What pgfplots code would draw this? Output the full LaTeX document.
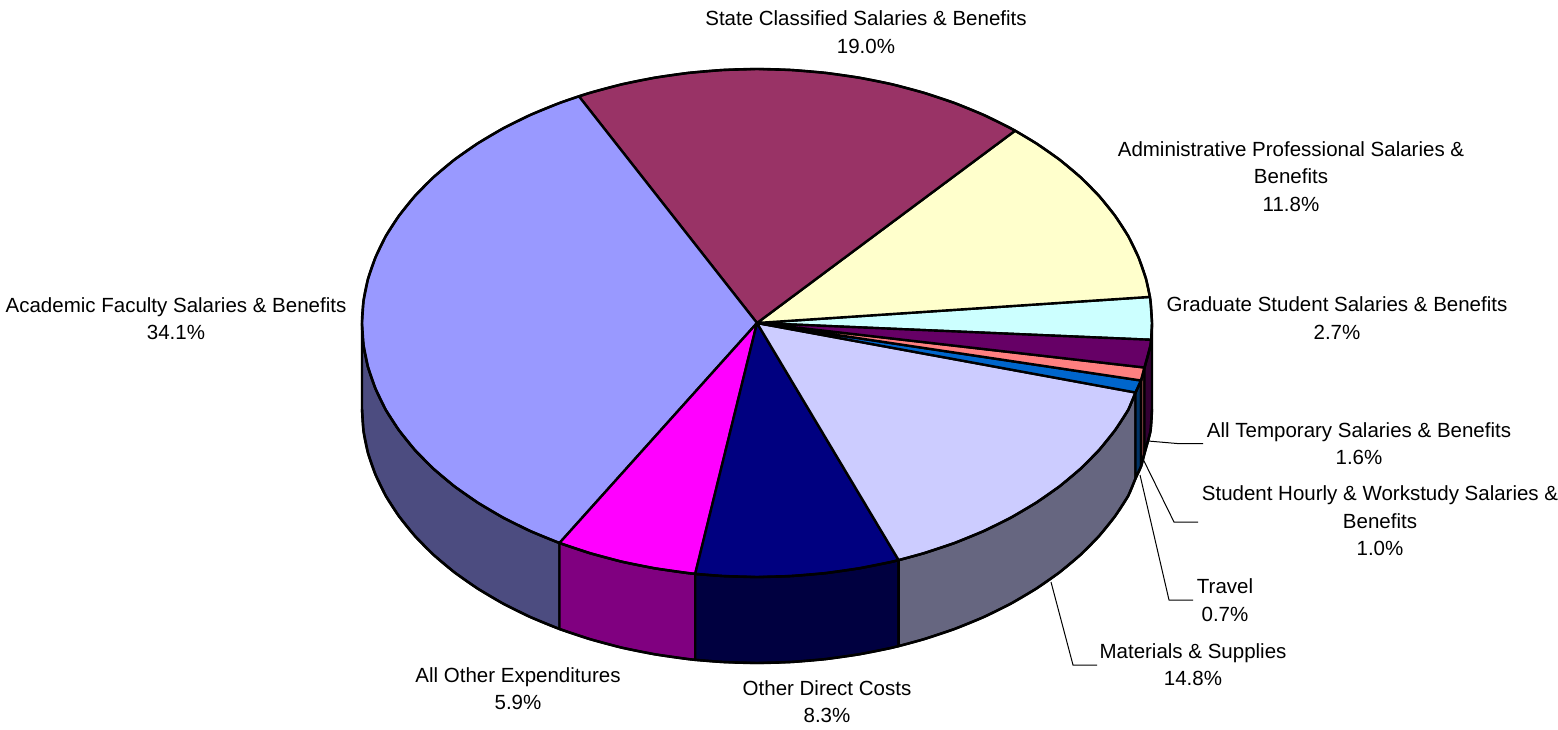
\documentclass[border=0pt]{standalone}
\usepackage{fontspec}
\setmainfont{Liberation Sans}
\usepackage{pgfplots}
\pgfplotsset{compat=1.18}

\definecolor{periw}{HTML}{9999FF}
\definecolor{periwd}{HTML}{4C4C80}
\definecolor{maroonc}{HTML}{993366}
\definecolor{yellowc}{HTML}{FFFFCC}
\definecolor{cyanc}{HTML}{CCFFFF}
\definecolor{purplec}{HTML}{660066}
\definecolor{purpled}{HTML}{330033}
\definecolor{salmon}{HTML}{FF8080}
\definecolor{salmond}{HTML}{804040}
\definecolor{bluec}{HTML}{0066CC}
\definecolor{blued}{HTML}{003366}
\definecolor{lav}{HTML}{CCCCFF}
\definecolor{lavd}{HTML}{666680}
\definecolor{navyc}{HTML}{000080}
\definecolor{navyd}{HTML}{000040}
\definecolor{magc}{HTML}{FF00FF}
\definecolor{magd}{HTML}{800080}

\tikzset{
lab/.style={align=center, font=\fontsize{20.5}{27.6}\selectfont, text=black, inner sep=0pt},
lead/.style={draw=black, line width=1pt, no markers, line join=miter},
}

\begin{document}
\begin{tikzpicture}
\begin{axis}[
hide axis,
scale only axis,
width=1558pt, height=730pt,
xmin=0, xmax=1558, ymin=0, ymax=730,
y dir=reverse,
clip=false,
every axis plot/.append style={draw=black, line width=2.4pt, line join=round, no markers},
]
% side walls, 86 px deep
\addplot[fill=periwd] coordinates {(362,323)(363.5,345.1)(368,367.1)(375.5,388.7)(385.8,409.9)(399,430.3)(414.9,450)(433.4,468.7)(454.4,486.3)(477.7,502.6)(503.1,517.6)(530.4,531.1)(559.5,543)(559.5,629)(530.4,617.1)(503.1,603.6)(477.7,588.6)(454.4,572.3)(433.4,554.7)(414.9,536)(399,516.3)(385.8,495.9)(375.5,474.7)(368,453.1)(363.5,431.1)(362,409)(362,323)};
\addplot[fill=magd] coordinates {(559.5,543)(590.1,553.2)(621.9,561.7)(654.8,568.3)(688.4,573.1)(695.2,573.9)(695.2,659.9)(688.4,659.1)(654.8,654.3)(621.9,647.7)(590.1,639.2)(559.5,629)(559.5,543)};
\addplot[fill=navyd] coordinates {(695.2,573.9)(722.6,576)(757,577)(791.4,576)(825.6,573.1)(859.2,568.3)(892.1,561.7)(898.6,560.1)(898.6,646.1)(892.1,647.7)(859.2,654.3)(825.6,659.1)(791.4,662)(757,663)(722.6,662)(695.2,659.9)(695.2,573.9)};
\addplot[fill=lavd] coordinates {(898.6,560.1)(923.9,553.2)(954.5,543)(983.6,531.1)(1010.9,517.6)(1036.3,502.6)(1059.6,486.3)(1080.6,468.7)(1099.1,450)(1115,430.3)(1128.2,409.9)(1135.5,392.5)(1135.5,478.5)(1128.2,495.9)(1115,516.3)(1099.1,536)(1080.6,554.7)(1059.6,572.3)(1036.3,588.6)(1010.9,603.6)(983.6,617.1)(954.5,629)(923.9,639.2)(898.6,646.1)(898.6,560.1)};
\addplot[fill=blued] coordinates {(1135.5,392.5)(1141,380.5)(1141,466.5)(1135.5,478.5)(1135.5,392.5)};
\addplot[fill=salmond] coordinates {(1141,380.5)(1144.5,367.5)(1144.5,453.5)(1141,466.5)(1141,380.5)};
\addplot[fill=purpled] coordinates {(1144.5,367.5)(1150.5,345.1)(1152,323)(1152,409)(1150.5,431.1)(1144.5,453.5)(1144.5,367.5)};
% top faces
\addplot[fill=cyanc] coordinates {(757,323)(1151.1,339.8)(1152,323)(1150.5,300.9)(1149.9,296.9)(757,323)};
\addplot[fill=yellowc] coordinates {(757,323)(1149.9,296.9)(1146,278.9)(1138.5,257.3)(1128.2,236.1)(1115,215.7)(1099.1,196)(1080.6,177.3)(1059.6,159.7)(1036.3,143.4)(1015.1,130.7)(757,323)};
\addplot[fill=maroonc] coordinates {(757,323)(1015.1,130.7)(1010.9,128.4)(983.6,114.9)(954.5,103)(923.9,92.8)(892.1,84.3)(859.2,77.7)(825.6,72.9)(791.4,70)(757,69)(722.6,70)(688.4,72.9)(654.8,77.7)(621.9,84.3)(590.1,92.8)(578.9,96.3)(757,323)};
\addplot[fill=periw] coordinates {(757,323)(578.9,96.3)(559.5,103)(530.4,114.9)(503.1,128.4)(477.7,143.4)(454.4,159.7)(433.4,177.3)(414.9,196)(399,215.7)(385.8,236.1)(375.5,257.3)(368,278.9)(363.5,300.9)(362,323)(363.5,345.1)(368,367.1)(375.5,388.7)(385.8,409.9)(399,430.3)(414.9,450)(433.4,468.7)(454.4,486.3)(477.7,502.6)(503.1,517.6)(530.4,531.1)(559.5,543)(757,323)};
\addplot[fill=magc] coordinates {(757,323)(559.5,543)(590.1,553.2)(621.9,561.7)(654.8,568.3)(688.4,573.1)(695.2,573.9)(757,323)};
\addplot[fill=navyc] coordinates {(757,323)(695.2,573.9)(722.6,576)(757,577)(791.4,576)(825.6,573.1)(859.2,568.3)(892.1,561.7)(898.6,560.1)(757,323)};
\addplot[fill=lav] coordinates {(757,323)(898.6,560.1)(923.9,553.2)(954.5,543)(983.6,531.1)(1010.9,517.6)(1036.3,502.6)(1059.6,486.3)(1080.6,468.7)(1099.1,450)(1115,430.3)(1128.2,409.9)(1135.5,392.5)(757,323)};
\addplot[fill=bluec] coordinates {(757,323)(1135.5,392.5)(1141,380.5)(757,323)};
\addplot[fill=salmon] coordinates {(757,323)(1141,380.5)(1144.5,367.5)(757,323)};
\addplot[fill=purplec] coordinates {(757,323)(1144.5,367.5)(1150.5,345.1)(1151.1,339.8)(757,323)};
% rims, smooth over the faceted fills
\addplot[smooth] coordinates {(1152,323)(1150.5,300.9)(1146,278.9)(1138.5,257.3)(1128.2,236.1)(1115,215.7)(1099.1,196)(1080.6,177.3)(1059.6,159.7)(1036.3,143.4)(1010.9,128.4)(983.6,114.9)(954.5,103)(923.9,92.8)(892.1,84.3)(859.2,77.7)(825.6,72.9)(791.4,70)(757,69)(722.6,70)(688.4,72.9)(654.8,77.7)(621.9,84.3)(590.1,92.8)(559.5,103)(530.4,114.9)(503.1,128.4)(477.7,143.4)(454.4,159.7)(433.4,177.3)(414.9,196)(399,215.7)(385.8,236.1)(375.5,257.3)(368,278.9)(363.5,300.9)(362,323)(363.5,345.1)(368,367.1)(375.5,388.7)(385.8,409.9)(399,430.3)(414.9,450)(433.4,468.7)(454.4,486.3)(477.7,502.6)(503.1,517.6)(530.4,531.1)(559.5,543)(590.1,553.2)(621.9,561.7)(654.8,568.3)(688.4,573.1)(722.6,576)(757,577)(791.4,576)(825.6,573.1)(859.2,568.3)(892.1,561.7)(923.9,553.2)(954.5,543)(983.6,531.1)(1010.9,517.6)(1036.3,502.6)(1059.6,486.3)(1080.6,468.7)(1099.1,450)(1115,430.3)(1128.2,409.9)(1135.5,392.5)(1141,380.5)(1144.5,367.5)(1150.5,345.1)(1152,323)};
\addplot[smooth] coordinates {(362,409)(363.5,431.1)(368,453.1)(375.5,474.7)(385.8,495.9)(399,516.3)(414.9,536)(433.4,554.7)(454.4,572.3)(477.7,588.6)(503.1,603.6)(530.4,617.1)(559.5,629)(590.1,639.2)(621.9,647.7)(654.8,654.3)(688.4,659.1)(722.6,662)(757,663)(791.4,662)(825.6,659.1)(859.2,654.3)(892.1,647.7)(923.9,639.2)(954.5,629)(983.6,617.1)(1010.9,603.6)(1036.3,588.6)(1059.6,572.3)(1080.6,554.7)(1099.1,536)(1115,516.3)(1128.2,495.9)(1135.5,478.5)(1141,466.5)(1144.5,453.5)(1150.5,431.1)(1152,409)};
% leader lines
\addplot[lead] coordinates {(1148,441)(1177,443.5)(1203,443.5)};
\addplot[lead] coordinates {(1143,459)(1174,522)(1198,522)};
\addplot[lead] coordinates {(1140,475)(1169,600)(1193,600)};
\addplot[lead] coordinates {(1051,582)(1073,665)(1097,665)};
% labels
\node[lab] at (axis cs:866,32) {State Classified Salaries \& Benefits\\19.0\%};
\node[lab] at (axis cs:1291,176.5) {Administrative Professional Salaries \&\\Benefits\\11.8\%};
\node[lab] at (axis cs:1337,318) {Graduate Student Salaries \& Benefits\\2.7\%};
\node[lab] at (axis cs:176,318.5) {Academic Faculty Salaries \& Benefits\\34.1\%};
\node[lab] at (axis cs:1359,443.5) {All Temporary Salaries \& Benefits\\1.6\%};
\node[lab] at (axis cs:1380,521) {Student Hourly \& Workstudy Salaries \&\\Benefits\\1.0\%};
\node[lab] at (axis cs:1225,600) {Travel\\0.7\%};
\node[lab] at (axis cs:1193,664.5) {Materials \& Supplies\\14.8\%};
\node[lab] at (axis cs:518,688.5) {All Other Expenditures\\5.9\%};
\node[lab] at (axis cs:827,701.5) {Other Direct Costs\\8.3\%};
\end{axis}
\pgfresetboundingbox
\path[use as bounding box] (0,0) rectangle (1558pt,730pt);
\end{tikzpicture}
\end{document}
